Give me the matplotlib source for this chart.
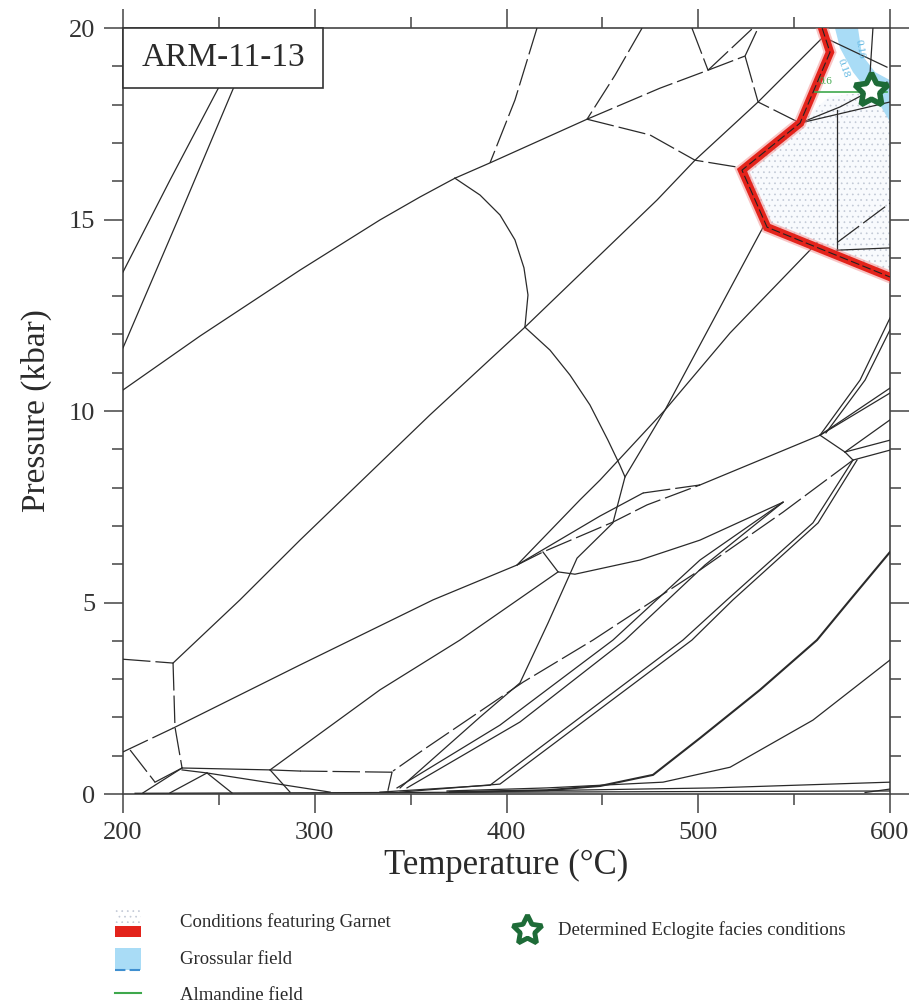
import matplotlib
matplotlib.use("Agg")
import matplotlib.pyplot as plt
from matplotlib.patches import Polygon, Rectangle
from matplotlib.ticker import MultipleLocator

plt.rcParams['font.family'] = ['Liberation Serif', 'DejaVu Serif']
plt.rcParams['hatch.linewidth'] = 0.5

# phase boundaries as (T degC, P kbar) read from the pseudosection
line_a = [(200, 13.63), (224.5, 16.03), (249.5, 18.41), (266.2, 20.0)]
line_b = [(200, 11.65), (229.7, 15.12), (257.4, 18.41), (270.9, 20.0)]
line_c = [(200, 10.55), (240.2, 11.96), (292.3, 13.68), (334.0, 14.99), (354.9, 15.59), (373.1, 16.08)]
line_d = [(373.1, 16.08), (391.4, 16.48), (442.0, 17.62)]
line_l = [(564.6, 19.74), (531.2, 18.07), (498.3, 16.55), (478.5, 15.51), (409.6, 12.19),
          (360.1, 9.90), (292.3, 6.63), (261.0, 5.07), (226.1, 3.42)]
arc_2 = [(373.1, 16.08), (386.2, 15.64), (396.6, 15.12), (404.4, 14.47), (409.1, 13.74),
         (411.2, 13.03), (409.6, 12.19)]
arc_3 = [(409.6, 12.19), (422.7, 11.59), (433.1, 10.94), (443.5, 10.16), (452.9, 9.24),
         (459.1, 8.59), (461.8, 8.28)]
line_p1 = [(533.8, 14.80), (482.7, 10.03), (461.8, 8.28), (455.5, 7.08), (436.8, 6.16),
           (421.6, 4.46), (407.0, 2.90), (386.2, 2.01), (344.5, 0.16)]
line_p2 = [(561.9, 14.39), (516.6, 12.04), (482.7, 10.03), (448.8, 8.20), (438.3, 7.68), (405.5, 5.98)]
line_m = [(226.1, 1.72), (292.3, 3.37), (361.7, 5.07), (405.5, 5.98), (448.8, 7.26), (471.2, 7.86)]
line_q = [(500.9, 8.07), (563.5, 9.37)]
line_n = [(276.7, 0.63), (334.0, 2.72), (375.7, 4.02), (426.9, 5.80)]
lens = [(419.0, 6.32), (426.9, 5.80), (435.7, 5.74), (469.6, 6.11), (500.9, 6.63), (544.2, 7.62)]
line_s2 = [(544.2, 7.62), (500.9, 6.11), (455.5, 4.02), (396.6, 1.80), (342.9, 0.16)]
line_s3 = [(544.2, 7.62), (503.5, 5.98), (461.8, 4.02), (407.0, 1.88), (348.1, 0.16)]
line_u1a = [(563.5, 9.37), (584.4, 10.81), (600, 12.43)]
line_u1b = [(566.6, 9.43), (587.0, 10.81), (600, 12.12)]
line_u2a = [(563.5, 9.37), (600, 10.47)]
line_u2b = [(563.5, 9.37), (600, 10.60)]
line_u3 = [(563.5, 9.37), (576.5, 8.93), (580.7, 8.72)]
line_u4 = [(576.5, 8.93), (600, 9.77)]
line_u5 = [(576.5, 8.93), (600, 9.24)]
line_u6 = [(580.7, 8.72), (600, 8.98)]
line_t1 = [(580.7, 8.72), (559.8, 7.08), (515.0, 5.07), (492.0, 4.02), (391.4, 0.23), (334.0, 0.05)]
line_t2 = [(582.8, 8.72), (562.5, 7.08), (518.1, 5.07), (496.7, 4.02), (396.6, 0.26), (344.5, 0.05)]
line_t3 = [(600, 6.32), (579.2, 5.07), (561.9, 4.02), (532.2, 2.72), (500.9, 1.46), (476.4, 0.50),
           (448.8, 0.21), (421.1, 0.10), (370.5, 0.05)]
line_t4 = [(600, 3.50), (559.8, 1.93), (516.6, 0.70), (481.6, 0.31), (421.1, 0.16), (369.0, 0.08)]
line_t5 = [(600, 0.31), (507.7, 0.16), (369.0, 0.05)]
line_t6 = [(600, 0.13), (587.0, 0.04)]
line_base = [(206.3, 0.02), (600, 0.08)]
ll_4 = [(216.7, 0.31), (230.8, 0.68)]
ll_5a = [(230.8, 0.68), (276.7, 0.63), (292.3, 0.60)]
ll_6 = [(340.3, 0.57), (338.2, 0.10)]
ll_7 = [(230.8, 0.63), (243.8, 0.55), (308.0, 0.05)]
ll_8 = [(243.8, 0.55), (256.8, 0.03)]
ll_9 = [(243.8, 0.55), (224.5, 0.03)]
ll_10 = [(230.8, 0.68), (210.4, 0.03)]
ll_11 = [(276.7, 0.63), (287.1, 0.05)]
line_v1 = [(572.4, 17.86), (572.4, 14.20)]
line_v2 = [(572.4, 14.20), (600, 14.26)]
line_w1 = [(553.1, 17.52), (573.9, 17.94), (598.4, 18.59)]
line_w2 = [(553.1, 17.52), (600, 18.07)]
line_w3 = [(565.1, 19.77), (598.4, 18.98)]
line_w4 = [(591.1, 20.0), (589.6, 18.83)]

# boundaries drawn broken (long dashes)
line_e = [(415.9, 20.0), (404.4, 18.12), (391.4, 16.48)]
line_f = [(470.7, 20.0), (456.6, 18.77), (442.0, 17.62)]
line_g = [(442.0, 17.62), (480.0, 18.43), (505.1, 18.90), (524.4, 19.27)]
line_h = [(496.7, 20.0), (505.1, 18.90)]
line_i = [(505.1, 18.90), (528.5, 20.0)]
line_j = [(524.4, 19.27), (531.2, 20.0)]
line_k = [(524.4, 19.27), (531.2, 18.07), (553.1, 17.52)]
arc_1 = [(442.0, 17.62), (474.8, 17.21), (498.3, 16.55), (522.8, 16.35)]
line_r = [(405.5, 5.98), (419.0, 6.32), (455.5, 7.10), (473.3, 7.55), (500.9, 8.07)]
line_m0 = [(200, 1.10), (226.1, 1.72)]
line_m2 = [(471.2, 7.86), (500.9, 8.07)]
line_u7 = [(580.7, 8.72), (561.9, 8.02), (544.2, 7.36), (500.9, 5.85), (445.1, 4.02),
           (408.6, 2.92), (356.5, 1.15), (340.8, 0.60)]
ll_1 = [(200, 3.52), (226.1, 3.42)]
ll_2 = [(226.1, 3.42), (227.1, 1.75), (230.8, 0.68)]
ll_3 = [(203.7, 1.15), (216.7, 0.31)]
ll_5b = [(292.3, 0.60), (340.3, 0.57)]
line_v3 = [(572.4, 14.40), (600, 15.43)]

# highlighted fields
garnet_field = [(553.1, 17.52), (568.0, 18.2), (600, 18.4), (600, 13.50), (535.9, 14.80), (522.8, 16.29)]
garnet_edge = [(564.6, 20.0), (568.7, 19.37), (553.1, 17.52), (522.8, 16.29), (535.9, 14.80), (600, 13.50)]
grossular_field = [(571.3, 20.0), (583.3, 20.0), (585.4, 19.30), (592.2, 18.85), (600, 18.64),
                   (600, 17.55), (594.7, 18.0), (588.0, 18.38), (580.7, 18.85), (573.9, 19.48)]
almandine_line = [(560.9, 18.33), (598.4, 18.33)]
eclogite_T = [590.1]
eclogite_P = [18.38]

solid = [line_a, line_b, line_c, line_d, line_l, arc_2, arc_3, line_p1, line_p2, line_m, line_q,
         line_n, lens, line_s2, line_s3, line_u1a, line_u1b, line_u2a, line_u2b, line_u3, line_u4,
         line_u5, line_u6, line_t1, line_t2, line_t4, line_t5, line_t6, line_base, ll_4, ll_5a,
         ll_6, ll_7, ll_8, ll_9, ll_10, ll_11, line_v1, line_v2, line_w1, line_w2, line_w3, line_w4]
dashed = [line_e, line_f, line_g, line_h, line_i, line_j, line_k, arc_1, line_r, line_m0,
          line_m2, line_u7, ll_1, ll_2, ll_3, ll_5b, line_v3]

fig = plt.figure(figsize=(9.2, 10.06), dpi=100)
ax = fig.add_axes([0.1337, 0.2107, 0.8337, 0.7614])

ink = '#2a2a2a'
ax.add_patch(Polygon(garnet_field, closed=True, facecolor='#f8fafd', edgecolor='#c2c9d6',
                     hatch='...', lw=0, zorder=1))
ax.add_patch(Polygon(grossular_field, closed=True, facecolor='#a9dcf6', edgecolor='none', zorder=1))

for seg in solid:
    t, p = zip(*seg)
    ax.plot(t, p, color=ink, lw=0.9, zorder=3)
for seg in dashed:
    t, p = zip(*seg)
    ax.plot(t, p, color=ink, lw=0.9, ls=(0, (22, 4)), zorder=3)
t, p = zip(*line_t3)
ax.plot(t, p, color=ink, lw=1.5, zorder=3)

# garnet-in boundary
t, p = zip(*garnet_edge)
ax.plot(t, p, color='#f08080', lw=9, alpha=0.45, solid_joinstyle='miter', zorder=4)
ax.plot(t, p, color='#e3231b', lw=6, solid_joinstyle='miter', zorder=4)
ax.plot(t, p, color='#222222', lw=0.8, ls=(0, (8, 3)), zorder=5)

t, p = zip(*almandine_line)
ax.plot(t, p, color='#3ea84c', lw=1.2, zorder=5)
ax.text(566.5, 18.6, '0.6', color='#3ea84c', fontsize=8, ha='center', va='center', zorder=6)
ax.text(584.0, 19.45, '0.16', color='#5ab4e0', fontsize=8, rotation=-80,
        ha='center', va='center', zorder=6)
ax.text(575.5, 18.95, '0.18', color='#5ab4e0', fontsize=8, rotation=-70,
        ha='center', va='center', zorder=6)
ax.plot(eclogite_T, eclogite_P, marker=(5, 1, 0), ms=25, mfc='white', mec='#1d6b37',
        mew=4, ls='none', zorder=7, clip_on=False)

ax.set_xlim(200, 600)
ax.set_ylim(0, 20)
ax.xaxis.set_major_locator(MultipleLocator(100))
ax.xaxis.set_minor_locator(MultipleLocator(50))
ax.yaxis.set_major_locator(MultipleLocator(5))
ax.yaxis.set_minor_locator(MultipleLocator(1))
ax.tick_params(which='both', direction='out', top=True, right=True, color='#444444', width=1.1)
ax.tick_params(which='major', length=14, labelsize=19, labelcolor='#333333', pad=6)
ax.tick_params(which='minor', length=8)
for s in ax.spines.values():
    s.set_color('#444444')
    s.set_linewidth(1.2)

ax.set_xlabel('Temperature (°C)', fontsize=25, color='#2a2a2a', labelpad=4)
ax.set_ylabel('Pressure (kbar)', fontsize=24, color='#2a2a2a', labelpad=12)

ax.add_patch(Rectangle((0, 0.9217), 0.2608, 0.0783, transform=ax.transAxes, facecolor='white',
                       edgecolor='#333333', lw=1.2, zorder=8, clip_on=False))
ax.text(0.1304, 0.9608, 'ARM-11-13', transform=ax.transAxes, fontsize=24, color='#2a2a2a',
        ha='center', va='center', zorder=9)

# legend area, pixel-like coordinates
lax = fig.add_axes([0, 0, 1, 0.125])
lax.set_xlim(0, 920)
lax.set_ylim(1006, 1006 - 0.125 * 1006)
lax.axis('off')
lax.add_patch(Rectangle((115, 907), 26, 16, facecolor='white', edgecolor='#c2c9d6', hatch='...', lw=0))
lax.add_patch(Rectangle((115, 926), 26, 11, facecolor='#e3231b', edgecolor='none'))
lax.add_patch(Rectangle((115, 948), 26, 22, facecolor='#a9dcf6', edgecolor='none'))
lax.plot([115, 141], [970, 970], color='#3f8fd0', lw=1.5, ls=(0, (5, 2)))
lax.plot([115, 141], [993, 993], color='#3ea84c', lw=1.5)
lax.plot([527], [930], marker=(5, 1, 0), ms=22, mfc='white', mec='#1d6b37', mew=3.5)
lax.text(180, 922, 'Conditions featuring Garnet', fontsize=13.5, color='#2a2a2a', va='center')
lax.text(180, 960, 'Grossular field', fontsize=13.5, color='#2a2a2a', va='center')
lax.text(180, 995, 'Almandine field', fontsize=13.5, color='#2a2a2a', va='center')
lax.text(558, 930, 'Determined Eclogite facies conditions', fontsize=13.5, color='#2a2a2a',
         va='center')

fig.savefig('out.png', dpi=100)
